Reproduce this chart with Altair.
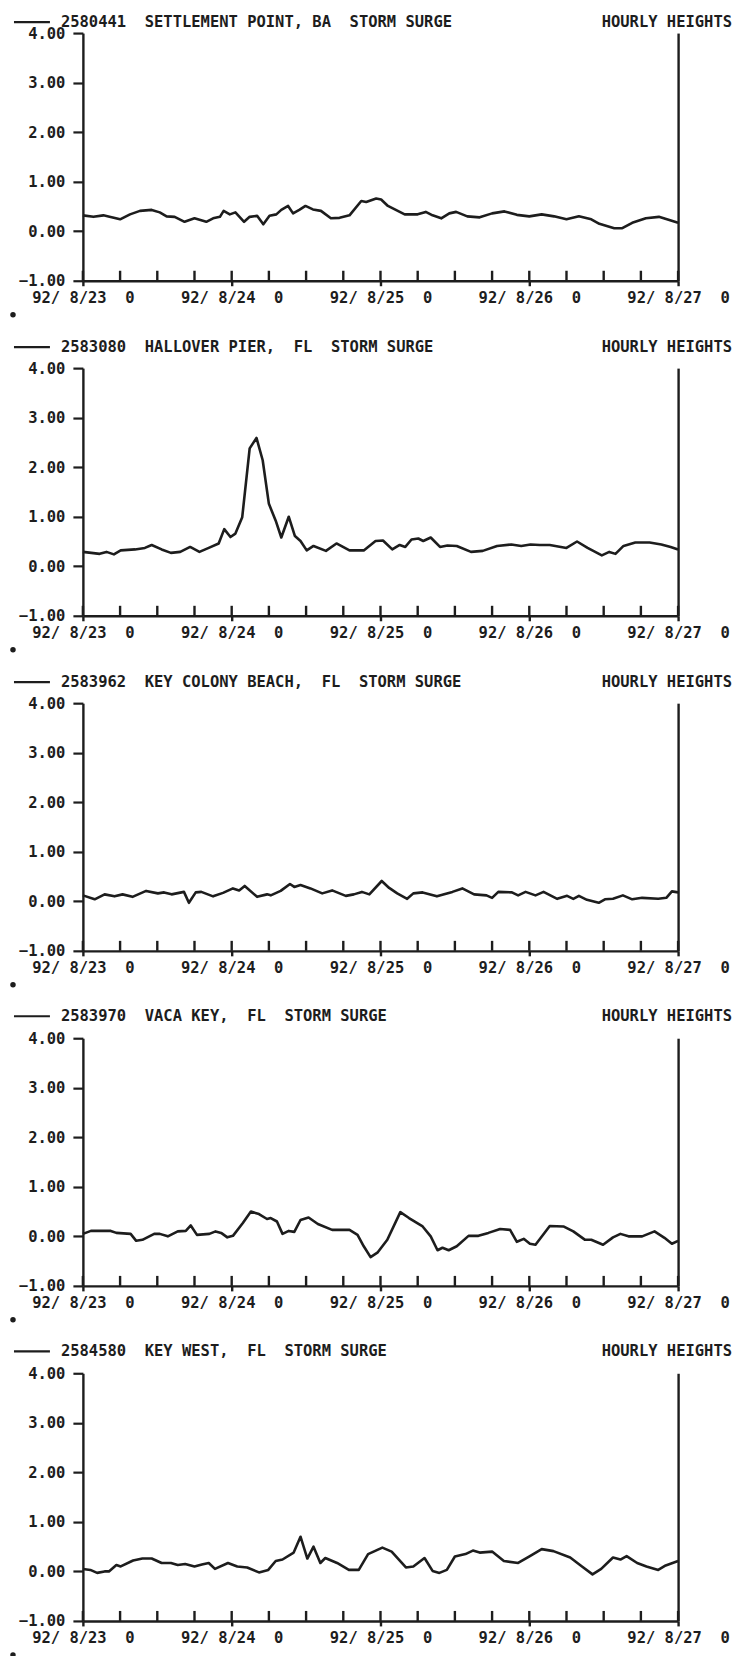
import json

import altair as alt
import pandas as pd

# Station headers
STATION_IDS = ["2580441", "2583080", "2583962", "2583970", "2584580"]
STATION_NAMES = [
    "SETTLEMENT POINT, BA",
    "HALLOVER PIER,  FL",
    "KEY COLONY BEACH,  FL",
    "VACA KEY,  FL",
    "KEY WEST,  FL",
]

# Storm surge (ft) against hours since 92/8/23 00h
SETTLEMENT_HOURS = [0, 1.7, 3.3, 4.3, 6.0, 7.6, 9.2, 11.1, 12.4, 13.5, 14.8, 16.4, 18.0, 19.9,
                    21.0, 22.1, 22.7, 23.7, 24.6, 26.0, 26.9, 28.1, 29.1, 30.1, 31.2, 32.0,
                    33.1, 33.9, 34.9, 35.9, 37.1, 38.4, 40.0, 41.4, 43.0, 44.9, 45.7, 47.3,
                    48.1, 49.2, 51.9, 54.0, 55.3, 56.4, 57.8, 59.1, 60.2, 62, 64, 66, 68, 70,
                    72, 74, 76, 78, 80, 82, 83.3, 85.7, 87.0, 88.6, 90.8, 92.9, 94.2, 96]
SETTLEMENT_SURGE = [0.32, 0.29, 0.32, 0.29, 0.24, 0.34, 0.41, 0.43, 0.38, 0.30, 0.29, 0.19,
                    0.26, 0.19, 0.26, 0.29, 0.41, 0.34, 0.38, 0.19, 0.29, 0.31, 0.14, 0.31,
                    0.34, 0.43, 0.51, 0.36, 0.43, 0.51, 0.44, 0.41, 0.26, 0.27, 0.32, 0.61,
                    0.59, 0.66, 0.64, 0.51, 0.34, 0.34, 0.39, 0.32, 0.26, 0.36, 0.39, 0.30,
                    0.28, 0.36, 0.40, 0.33, 0.30, 0.34, 0.30, 0.24, 0.30, 0.24, 0.15, 0.06,
                    0.06, 0.17, 0.26, 0.29, 0.24, 0.17]

HALLOVER_HOURS = [0, 2.7, 3.8, 5.0, 6.1, 8.4, 10.0, 11.1, 12.7, 14.2, 15.7, 17.3, 18.8, 20.3,
                  21.9, 22.8, 23.8, 24.6, 25.7, 26.9, 28.0, 29.0, 30.0, 31.1, 32.0, 33.2,
                  34.2, 35.1, 36.1, 37.2, 39.2, 40.9, 43.0, 45.3, 47.2, 48.4, 49.9, 51.1,
                  52.0, 53.0, 54.1, 54.9, 56.1, 57.6, 58.8, 60.3, 62.6, 64.5, 66.8, 69.1,
                  70.7, 72.2, 73.7, 75.3, 78.0, 79.7, 81.4, 83.7, 84.9, 85.9, 87.2, 89.1,
                  91.4, 93.3, 94.8, 96]
HALLOVER_SURGE = [0.29, 0.25, 0.29, 0.24, 0.32, 0.34, 0.37, 0.43, 0.34, 0.27, 0.29, 0.39,
                  0.29, 0.37, 0.46, 0.75, 0.59, 0.66, 0.99, 2.38, 2.59, 2.14, 1.26, 0.92,
                  0.58, 1.00, 0.61, 0.51, 0.32, 0.41, 0.31, 0.46, 0.32, 0.32, 0.51, 0.52,
                  0.34, 0.43, 0.39, 0.54, 0.56, 0.51, 0.58, 0.39, 0.42, 0.41, 0.29, 0.31,
                  0.41, 0.44, 0.41, 0.44, 0.43, 0.43, 0.37, 0.50, 0.37, 0.22, 0.29, 0.25,
                  0.41, 0.48, 0.48, 0.44, 0.39, 0.34]

KEY_COLONY_HOURS = [0, 1.9, 3.5, 5.1, 6.4, 8.0, 10.2, 12.1, 13.1, 14.3, 16.3, 17.1, 18.2,
                    19.1, 21.0, 22.6, 24.2, 25.2, 26.1, 28.1, 29.7, 30.3, 31.9, 33.4, 34.1,
                    35.1, 36.7, 38.6, 40.2, 42.4, 43.7, 45.0, 46.2, 48.2, 49.4, 50.7, 52.3,
                    53.3, 54.8, 57.1, 59.6, 61.2, 63.1, 65.1, 66.0, 67.0, 69.2, 70.2, 71.4,
                    73.0, 74.3, 76.5, 78.1, 79.1, 80.0, 81.3, 83.2, 84.2, 85.5, 87.1, 88.6,
                    90.2, 92.8, 94.1, 95.0, 96]
KEY_COLONY_SURGE = [0.12, 0.04, 0.14, 0.10, 0.14, 0.09, 0.21, 0.16, 0.18, 0.14, 0.19, -0.03,
                    0.18, 0.19, 0.10, 0.17, 0.26, 0.22, 0.31, 0.09, 0.14, 0.12, 0.21, 0.35,
                    0.29, 0.33, 0.26, 0.16, 0.22, 0.11, 0.14, 0.19, 0.14, 0.41, 0.27, 0.16,
                    0.05, 0.16, 0.18, 0.10, 0.19, 0.26, 0.14, 0.12, 0.07, 0.19, 0.18, 0.12,
                    0.19, 0.12, 0.19, 0.05, 0.11, 0.05, 0.11, 0.03, -0.03, 0.04, 0.05, 0.12,
                    0.04, 0.07, 0.05, 0.07, 0.20, 0.18]

VACA_HOURS = [0, 1.3, 4.5, 5.4, 7.7, 8.6, 9.6, 11.5, 12.4, 13.7, 15.3, 16.6, 17.4, 18.4,
              20.4, 21.4, 22.3, 23.3, 24.2, 25.8, 27.1, 28.4, 29.7, 30.3, 31.3, 32.2, 33.2,
              34.1, 35.1, 36.4, 37.9, 40.2, 43.0, 44.3, 45.3, 46.4, 47.5, 49.1, 51.2, 52.6,
              54.8, 56.1, 57.2, 58.0, 59.0, 60.3, 62.2, 63.8, 65.4, 67.3, 68.9, 70.0, 71.1,
              72.1, 73.0, 75.3, 77.5, 79.1, 81.0, 82.0, 83.9, 85.5, 86.7, 88.0, 90.2, 92.2,
              93.8, 95.0, 96]
VACA_SURGE = [0.05, 0.11, 0.11, 0.07, 0.05, -0.09, -0.07, 0.05, 0.05, 0.00, 0.10, 0.11,
              0.22, 0.03, 0.05, 0.10, 0.07, -0.02, 0.01, 0.27, 0.50, 0.45, 0.35, 0.37, 0.30,
              0.05, 0.11, 0.09, 0.33, 0.38, 0.25, 0.13, 0.13, 0.03, -0.20, -0.42, -0.33,
              -0.07, 0.49, 0.37, 0.20, 0.00, -0.28, -0.23, -0.28, -0.20, 0.01, 0.01, 0.07,
              0.15, 0.13, -0.11, -0.05, -0.15, -0.17, 0.21, 0.20, 0.10, -0.07, -0.07, -0.17,
              -0.02, 0.05, 0.00, 0.00, 0.10, -0.03, -0.15, -0.09]

KEY_WEST_HOURS = [0, 1.2, 2.3, 3.5, 4.2, 5.4, 6.1, 8.1, 9.6, 11.1, 12.7, 14.2, 15.3, 16.5,
                  18.0, 19.2, 20.3, 21.3, 23.4, 24.9, 26.5, 28.4, 29.9, 31.1, 32.2, 34.0,
                  35.1, 36.2, 37.2, 38.3, 39.1, 41.0, 42.9, 44.5, 46.0, 48.3, 49.8, 52.1,
                  53.3, 55.1, 56.4, 57.5, 58.7, 60.0, 61.7, 62.9, 64.0, 66.0, 67.9, 70.2,
                  72.1, 74.0, 75.9, 78.6, 80.5, 82.2, 83.6, 85.5, 86.7, 87.7, 89.4, 90.9,
                  92.8, 94.0, 96]
KEY_WEST_SURGE = [0.05, 0.03, -0.03, 0.00, 0.00, 0.13, 0.10, 0.22, 0.26, 0.26, 0.17, 0.17,
                  0.13, 0.15, 0.10, 0.14, 0.17, 0.05, 0.17, 0.10, 0.08, -0.02, 0.03, 0.21,
                  0.24, 0.38, 0.70, 0.26, 0.50, 0.17, 0.27, 0.17, 0.03, 0.03, 0.35, 0.48,
                  0.40, 0.08, 0.10, 0.27, 0.01, -0.03, 0.03, 0.30, 0.35, 0.42, 0.38, 0.40,
                  0.21, 0.17, 0.31, 0.45, 0.41, 0.28, 0.10, -0.06, 0.05, 0.28, 0.24, 0.31,
                  0.17, 0.10, 0.03, 0.12, 0.21]

SERIES = [
    (SETTLEMENT_HOURS, SETTLEMENT_SURGE),
    (HALLOVER_HOURS, HALLOVER_SURGE),
    (KEY_COLONY_HOURS, KEY_COLONY_SURGE),
    (VACA_HOURS, VACA_SURGE),
    (KEY_WEST_HOURS, KEY_WEST_SURGE),
]

# Axis ticks
DAY_TICK_HOURS = [0, 24, 48, 72, 96]
DAY_TICK_LABELS = ["92/ 8/23  0", "92/ 8/24  0", "92/ 8/25  0", "92/ 8/26  0", "92/ 8/27  0"]
SIX_HOUR_TICKS = list(range(0, 97, 6))
HEIGHT_TICKS = [-1, 0, 1, 2, 3, 4]

FONT = "DejaVu Sans Mono"
INK = "#1d1d1d"
FONT_SIZE = 15.5
W, H = 596, 248
GAP = 87.5
# page margins around the stack of panels
MARGIN_LEFT, MARGIN_TOP, MARGIN_RIGHT, MARGIN_BOTTOM = 82.5, 31.8, 66.5, 34.2
# distance of each header line above its plot frame
HEADER_RAISE = [11, 21, 21, 22, 22]
TICK_RISE = 10  # length of the six-hourly ticks standing inside the frame

NBSP = "\u00a0"
labels_js = json.dumps([s.replace(" ", NBSP) for s in DAY_TICK_LABELS])

x_scale = alt.Scale(domain=[0, 96], nice=False, zero=False)
y_scale = alt.Scale(domain=[-1, 4], nice=False, zero=False)


def page_edge(y_px):
    """Invisible rule spanning the page width, used to fix the page margins."""
    return alt.Chart(pd.DataFrame({"k": [0]})).mark_rule(
        strokeOpacity=0, strokeWidth=0.01).encode(
        x=alt.value(-MARGIN_LEFT), x2=alt.value(W + MARGIN_RIGHT), y=alt.value(y_px))


def panel(i):
    hours, surge = SERIES[i]
    df = pd.DataFrame({"hour": hours, "surge": surge})

    line = alt.Chart(df).mark_line(color=INK, strokeWidth=2.6, strokeJoin="round").encode(
        x=alt.X("hour:Q", scale=x_scale, axis=alt.Axis(
            orient="bottom", values=DAY_TICK_HOURS, labelExpr=f"{labels_js}[round(datum.value / 24)]",
            title=None, grid=False, domainColor=INK, domainWidth=2.4, tickColor=INK,
            tickWidth=2.4, tickSize=5, labelPadding=5, labelFont=FONT, labelFontSize=FONT_SIZE,
            labelFontWeight="bold", labelColor=INK, labelFlush=False, labelOverlap=False)),
        y=alt.Y("surge:Q", scale=y_scale, axis=alt.Axis(
            orient="left", values=HEIGHT_TICKS, format=".2f", title=None, grid=False,
            domainColor=INK, domainWidth=2.4, tickColor=INK, tickWidth=2.2, tickSize=10,
            labelPadding=8, labelFont=FONT, labelFontSize=FONT_SIZE, labelFontWeight="bold",
            labelColor=INK, labelFlush=False, labelOverlap=False)),
    )

    # Right-hand frame line
    frame = alt.Chart(df).mark_line(opacity=0).encode(
        x=alt.X("hour:Q", scale=x_scale, axis=None),
        y=alt.Y("surge:Q", scale=y_scale, axis=alt.Axis(
            orient="right", labels=False, ticks=False, title=None, grid=False,
            domainColor=INK, domainWidth=2.4)),
    )

    # Six-hourly ticks standing up from the time axis
    six_hour = alt.Chart(pd.DataFrame({"hour": SIX_HOUR_TICKS})).mark_rule(
        color=INK, strokeWidth=2.4).encode(
        x=alt.X("hour:Q", scale=x_scale, axis=None),
        y=alt.value(H),
        y2=alt.value(H - TICK_RISE),
    )

    head = pd.DataFrame({
        "left": [f"{STATION_IDS[i]}  {STATION_NAMES[i]}  STORM SURGE".replace(" ", NBSP)],
        "right": ["HOURLY HEIGHTS".replace(" ", NBSP)],
    })
    head_y = -HEADER_RAISE[i]
    text_style = dict(font=FONT, fontSize=FONT_SIZE, fontWeight="bold", color=INK, baseline="middle")
    left_title = alt.Chart(head).mark_text(align="left", **text_style).encode(
        x=alt.value(-22), y=alt.value(head_y), text="left:N")
    right_title = alt.Chart(head).mark_text(align="right", **text_style).encode(
        x=alt.value(W + 54), y=alt.value(head_y), text="right:N")
    key_line = alt.Chart(head).mark_rule(color=INK, strokeWidth=2.2).encode(
        x=alt.value(-69), x2=alt.value(-33), y=alt.value(head_y))
    pen_dot = alt.Chart(head).mark_point(filled=True, color=INK, size=30, opacity=1).encode(
        x=alt.value(-70), y=alt.value(H + 34))

    layers = [line, frame, six_hour, key_line, left_title, right_title, pen_dot]
    if i == 0:
        layers.append(page_edge(-MARGIN_TOP))
    if i == len(SERIES) - 1:
        layers.append(page_edge(H + MARGIN_BOTTOM))

    return (
        alt.layer(*layers)
        .resolve_axis(x="independent", y="independent")
        .properties(width=W, height=H)
    )


chart = (
    alt.vconcat(*[panel(i) for i in range(5)], spacing=GAP, bounds="flush")
    .properties(
        autosize=alt.AutoSizeParams(type="pad"),
        padding=0,
        background="white",
    )
    .configure_view(stroke=None)
)

chart.save("out.html", embed_options={"renderer": "svg", "actions": False})
